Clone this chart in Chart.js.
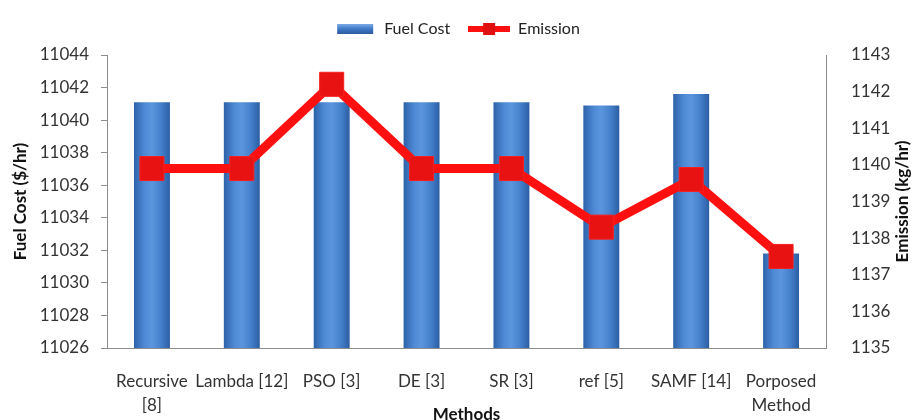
<!DOCTYPE html>
<html>
<head>
<meta charset="utf-8">
<script src="https://cdn.jsdelivr.net/npm/chart.js@4"></script>
<style>
  body { margin: 0; background: #fff; }
</style>
</head>
<body>
<canvas id="chart" width="914" height="420"></canvas>
<script>
var categories = [['Recursive', '[8]'], 'Lambda [12]', 'PSO [3]', 'DE [3]', 'SR [3]', 'ref [5]', 'SAMF [14]', ['Porposed', 'Method']];
var fuelCost = [11041.1, 11041.1, 11041.1, 11041.1, 11041.1, 11040.9, 11041.6, 11031.8];
var emission = [1139.9, 1139.9, 1142.2, 1139.9, 1139.9, 1138.3, 1139.6, 1137.5];

var fuelTicks = { min: 11026, max: 11044, step: 2 };
var emissionTicks = { min: 1135, max: 1143, step: 1 };

var FONT = 'Lato';

// legend icons
function barIcon() {
    var c = document.createElement('canvas');
    c.width = 40; c.height = 10;
    var g = c.getContext('2d');
    var gr = g.createLinearGradient(0, 0, 0, 10);
    gr.addColorStop(0, '#7aaae6');
    gr.addColorStop(0.5, '#3f78c6');
    gr.addColorStop(1, '#2c5c9e');
    g.fillStyle = gr;
    g.fillRect(2, 0, 36, 10);
    return c;
}
function lineIcon() {
    var c = document.createElement('canvas');
    c.width = 42; c.height = 14;
    var g = c.getContext('2d');
    g.fillStyle = '#ff1010';
    g.fillRect(0, 4, 42, 6);
    g.fillStyle = '#e01010';
    g.fillRect(15, 1, 12, 12);
    return c;
}

function barGradient(context) {
    var chart = context.chart;
    if (!chart.chartArea || context.dataIndex === undefined) return '#3f7cc8';
    var x = chart.scales.x.getPixelForValue(context.dataIndex);
    var w = 18;
    var gr = chart.ctx.createLinearGradient(x - w, 0, x + w, 0);
    gr.addColorStop(0, '#2d62a9');
    gr.addColorStop(0.3, '#4f8ad6');
    gr.addColorStop(0.5, '#5a95dd');
    gr.addColorStop(0.75, '#4580cc');
    gr.addColorStop(1, '#2b5ea3');
    return gr;
}

function plain(v) { return String(v); }

// legend takes a bit more room below it
var legendSpace = {
    id: 'legendSpace',
    beforeInit: function (chart) {
        var fit = chart.legend.fit;
        chart.legend.fit = function () {
            fit.call(this);
            this.height += 8;
        };
    }
};

// right title reads bottom to top, like the left one
var rightTitle = {
    id: 'rightTitle',
    afterDraw: function (chart) {
        var s = chart.scales.y1;
        var c = chart.ctx;
        c.save();
        c.translate(903, (s.top + s.bottom) / 2);
        c.rotate(-Math.PI / 2);
        c.font = 'bold 17px ' + FONT;
        c.fillStyle = '#111';
        c.textAlign = 'center';
        c.textBaseline = 'middle';
        c.fillText('Emission (kg/hr)', 0, 0);
        c.restore();
    }
};

var ctx = document.getElementById('chart').getContext('2d');
var chart = new Chart(ctx, {
    data: {
        labels: categories,
        datasets: [{
            type: 'bar',
            label: 'Fuel Cost',
            data: fuelCost,
            yAxisID: 'y',
            backgroundColor: barGradient,
            borderWidth: 0,
            barPercentage: 0.4,
            categoryPercentage: 1.0,
            order: 2
        }, {
            type: 'line',
            label: 'Emission',
            data: emission,
            yAxisID: 'y1',
            borderColor: '#ff1010',
            borderWidth: 9,
            pointStyle: 'rect',
            pointRadius: 17,
            pointBackgroundColor: '#e81212',
            pointBorderColor: '#f52020',
            pointBorderWidth: 1,
            tension: 0,
            order: 1
        }]
    },
    plugins: [legendSpace, rightTitle],
    options: {
        responsive: false,
        animation: false,
        layout: { padding: { top: 3, left: 0, right: 0, bottom: 0 } },
        plugins: {
            tooltip: { enabled: false },
            legend: {
                position: 'top',
                labels: {
                    usePointStyle: true,
                    pointStyleWidth: 42,
                    padding: 18,
                    color: '#222',
                    font: { family: FONT, size: 16 },
                    generateLabels: function (chart) {
                        return [
                            { text: 'Fuel Cost', pointStyle: barIcon(), datasetIndex: 0, lineWidth: 0, fontColor: '#222' },
                            { text: 'Emission', pointStyle: lineIcon(), datasetIndex: 1, lineWidth: 0, fontColor: '#222' }
                        ];
                    }
                }
            }
        },
        scales: {
            x: {
                grid: { display: false },
                border: { color: '#8c8c8c', width: 1 },
                ticks: {
                    color: '#333',
                    padding: 14,
                    maxRotation: 0,
                    autoSkip: false,
                    font: { family: FONT, size: 17, lineHeight: 1.4 }
                },
                title: {
                    display: true,
                    text: 'Methods',
                    color: '#111',
                    padding: { top: 0, bottom: -5 },
                    font: { family: FONT, size: 17, weight: 'bold' }
                },
                afterFit: function (s) { s.height = 72; }
            },
            y: {
                position: 'left',
                min: fuelTicks.min,
                max: fuelTicks.max,
                grid: { display: true, drawOnChartArea: false, tickLength: 6, color: '#8c8c8c' },
                border: { color: '#8c8c8c', width: 1 },
                ticks: {
                    stepSize: fuelTicks.step,
                    callback: plain,
                    color: '#333',
                    padding: 12,
                    font: { family: FONT, size: 17 }
                },
                title: {
                    display: true,
                    text: 'Fuel Cost ($/hr)',
                    color: '#111',
                    padding: { top: 10, bottom: 0 },
                    font: { family: FONT, size: 17, weight: 'bold' }
                },
                afterFit: function (s) { s.width = 107; }
            },
            y1: {
                position: 'right',
                min: emissionTicks.min,
                max: emissionTicks.max,
                grid: { display: false },
                border: { color: '#8c8c8c', width: 1 },
                ticks: {
                    stepSize: emissionTicks.step,
                    callback: plain,
                    color: '#333',
                    padding: 17,
                    font: { family: FONT, size: 17 }
                },
                afterFit: function (s) { s.width = 88; }
            }
        }
    }
});
</script>
</body>
</html>
